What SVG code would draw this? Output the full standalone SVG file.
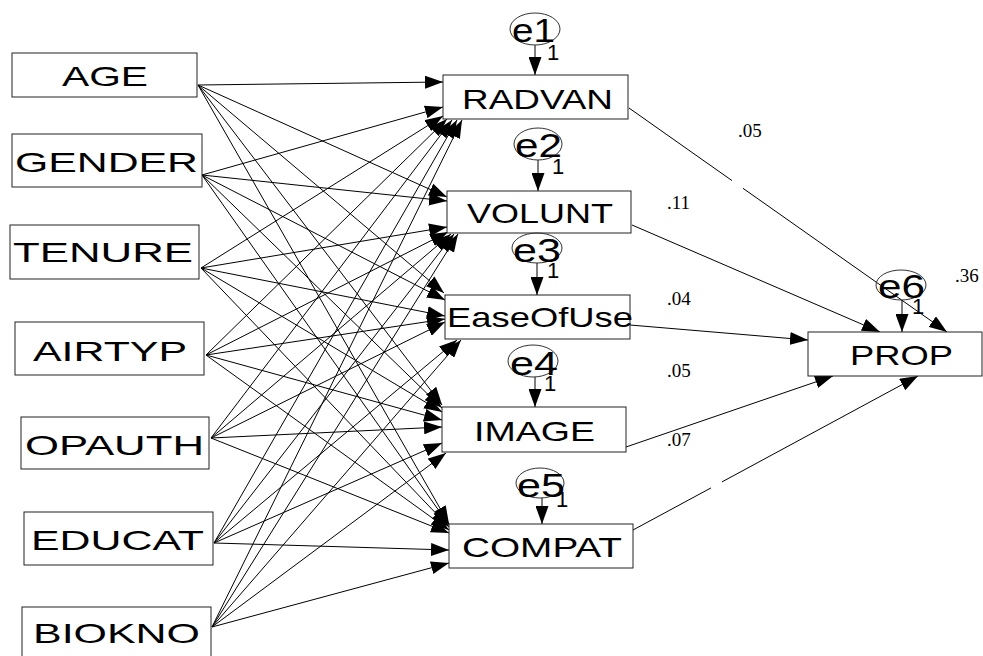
<svg xmlns="http://www.w3.org/2000/svg" width="983" height="656" viewBox="0 0 983 656">
<style>
.box{fill:#fff;stroke:#222;stroke-width:1}
.lbl{font-family:"Liberation Sans",Arial,sans-serif;font-size:28px;fill:#000}
.elbl{font-family:"Liberation Sans",Arial,sans-serif;font-size:34px;fill:#000}
.one{font-family:"Liberation Sans",Arial,sans-serif;font-size:22px;fill:#000}
.coef{font-family:"Liberation Serif","Times New Roman",serif;font-size:19px;fill:#000}
.err{fill:none;stroke:#333;stroke-width:1}
.c line{stroke:#000;stroke-width:1}
.c line.a{marker-end:url(#ah)}
</style>
<defs>
<marker id="ah" markerUnits="userSpaceOnUse" markerWidth="18" markerHeight="13" refX="18" refY="6.5" orient="auto">
<path d="M0,0 L18,6.5 L0,13 z" fill="#000"/>
</marker>
</defs>
<g id="connectors" class="c">
<line class="a" x1="198" y1="85" x2="443" y2="82"/>
<line class="a" x1="198" y1="85" x2="447" y2="197"/>
<line class="a" x1="198" y1="85" x2="444" y2="293"/>
<line class="a" x1="198" y1="85" x2="442" y2="405"/>
<line class="a" x1="198" y1="85" x2="449" y2="524"/>
<line class="a" x1="202" y1="175" x2="443" y2="107"/>
<line class="a" x1="202" y1="175" x2="447" y2="201"/>
<line class="a" x1="202" y1="175" x2="445" y2="300"/>
<line class="a" x1="202" y1="175" x2="442" y2="408"/>
<line class="a" x1="202" y1="175" x2="449" y2="525"/>
<line class="a" x1="201" y1="268" x2="443" y2="116"/>
<line class="a" x1="201" y1="268" x2="447" y2="227"/>
<line class="a" x1="201" y1="268" x2="445" y2="316"/>
<line class="a" x1="201" y1="268" x2="442" y2="412"/>
<line class="a" x1="201" y1="268" x2="449" y2="527"/>
<line class="a" x1="206" y1="355" x2="447" y2="119"/>
<line class="a" x1="206" y1="355" x2="448" y2="232"/>
<line class="a" x1="206" y1="355" x2="445" y2="319"/>
<line class="a" x1="206" y1="355" x2="442" y2="420"/>
<line class="a" x1="206" y1="355" x2="449" y2="530"/>
<line class="a" x1="211" y1="438" x2="452" y2="120"/>
<line class="a" x1="211" y1="438" x2="451" y2="234"/>
<line class="a" x1="211" y1="438" x2="445" y2="322"/>
<line class="a" x1="211" y1="438" x2="442" y2="427"/>
<line class="a" x1="211" y1="438" x2="449" y2="533"/>
<line class="a" x1="214" y1="543" x2="457" y2="120"/>
<line class="a" x1="214" y1="543" x2="454" y2="234"/>
<line class="a" x1="214" y1="543" x2="457" y2="340"/>
<line class="a" x1="214" y1="543" x2="442" y2="443"/>
<line class="a" x1="214" y1="543" x2="449" y2="550"/>
<line class="a" x1="212" y1="627" x2="462" y2="120"/>
<line class="a" x1="212" y1="627" x2="458" y2="234"/>
<line class="a" x1="212" y1="627" x2="461" y2="340"/>
<line class="a" x1="212" y1="627" x2="446" y2="453"/>
<line class="a" x1="212" y1="627" x2="449" y2="563"/>
<line x1="629" y1="108" x2="732" y2="180.6"/>
<line class="a" x1="743" y1="188.3" x2="947" y2="332"/>
<line class="a" x1="632" y1="225" x2="880" y2="332"/>
<line class="a" x1="630" y1="325" x2="808" y2="340"/>
<line class="a" x1="626" y1="447" x2="833" y2="376"/>
<line x1="633" y1="530" x2="711" y2="487.9"/>
<line class="a" x1="722" y1="481.9" x2="918" y2="376"/>
<line class="a" x1="535" y1="45" x2="535" y2="75"/>
<line class="a" x1="538" y1="160" x2="538" y2="191"/>
<line class="a" x1="537" y1="263" x2="537" y2="295"/>
<line class="a" x1="535" y1="377" x2="535" y2="407"/>
<line class="a" x1="542" y1="498" x2="542" y2="524"/>
<line class="a" x1="902" y1="300" x2="902" y2="332"/>
</g>
<g id="AGE"><rect class="box" x="12" y="53" width="185" height="44"/><text class="lbl" x="62" y="86" textLength="86" lengthAdjust="spacingAndGlyphs">AGE</text></g>
<g id="GENDER"><rect class="box" x="12" y="134" width="190" height="53"/><text class="lbl" x="15" y="172" textLength="183" lengthAdjust="spacingAndGlyphs">GENDER</text></g>
<g id="TENURE"><rect class="box" x="10" y="225" width="189" height="54"/><text class="lbl" x="13" y="262" textLength="180" lengthAdjust="spacingAndGlyphs">TENURE</text></g>
<g id="AIRTYP"><rect class="box" x="15" y="322" width="189" height="53"/><text class="lbl" x="33" y="361" textLength="154" lengthAdjust="spacingAndGlyphs">AIRTYP</text></g>
<g id="OPAUTH"><rect class="box" x="21" y="417" width="188" height="52"/><text class="lbl" x="25" y="455" textLength="179" lengthAdjust="spacingAndGlyphs">OPAUTH</text></g>
<g id="EDUCAT"><rect class="box" x="24" y="512" width="189" height="53"/><text class="lbl" x="31" y="550" textLength="173" lengthAdjust="spacingAndGlyphs">EDUCAT</text></g>
<g id="BIOKNO"><rect class="box" x="22" y="607" width="189" height="53"/><text class="lbl" x="33" y="643" textLength="167" lengthAdjust="spacingAndGlyphs">BIOKNO</text></g>
<g id="RADVAN"><rect class="box" x="443" y="75" width="185" height="44"/><text class="lbl" x="462" y="109" textLength="151" lengthAdjust="spacingAndGlyphs">RADVAN</text></g>
<g id="VOLUNT"><rect class="box" x="447" y="191" width="184" height="42"/><text class="lbl" x="467" y="223" textLength="146" lengthAdjust="spacingAndGlyphs">VOLUNT</text></g>
<g id="EaseOfUse"><rect class="box" x="445" y="295" width="185" height="44"/><text class="lbl" x="447" y="327" textLength="186" lengthAdjust="spacingAndGlyphs">EaseOfUse</text></g>
<g id="IMAGE"><rect class="box" x="442" y="407" width="184" height="45"/><text class="lbl" x="474" y="441" textLength="121" lengthAdjust="spacingAndGlyphs">IMAGE</text></g>
<g id="COMPAT"><rect class="box" x="449" y="524" width="184" height="44"/><text class="lbl" x="462" y="557" textLength="160" lengthAdjust="spacingAndGlyphs">COMPAT</text></g>
<g id="PROP"><rect class="box" x="808" y="332" width="174" height="44"/><text class="lbl" x="850" y="365" textLength="103" lengthAdjust="spacingAndGlyphs">PROP</text></g>
<g id="e1"><ellipse class="err" cx="535" cy="29" rx="25" ry="16"/><text class="elbl" x="512" y="42" textLength="43" lengthAdjust="spacingAndGlyphs">e1</text><text class="one" x="547" y="60">1</text></g>
<g id="e2"><ellipse class="err" cx="538" cy="144" rx="24" ry="16"/><text class="elbl" x="515" y="157" textLength="47" lengthAdjust="spacingAndGlyphs">e2</text><text class="one" x="552" y="174">1</text></g>
<g id="e3"><ellipse class="err" cx="537" cy="248" rx="25" ry="15"/><text class="elbl" x="513" y="262" textLength="48" lengthAdjust="spacingAndGlyphs">e3</text><text class="one" x="547" y="278">1</text></g>
<g id="e4"><ellipse class="err" cx="533" cy="361" rx="25" ry="16"/><text class="elbl" x="510" y="375" textLength="48" lengthAdjust="spacingAndGlyphs">e4</text><text class="one" x="544" y="391">1</text></g>
<g id="e5"><ellipse class="err" cx="540" cy="483" rx="24" ry="15"/><text class="elbl" x="517" y="497" textLength="48" lengthAdjust="spacingAndGlyphs">e5</text><text class="one" x="556" y="507">1</text></g>
<g id="e6"><ellipse class="err" cx="901" cy="285" rx="25" ry="15"/><text class="elbl" x="878" y="298" textLength="47" lengthAdjust="spacingAndGlyphs">e6</text><text class="one" x="912" y="314">1</text></g>
<g id="coefficients">
<text class="coef" x="738" y="137">.05</text>
<text class="coef" x="667" y="209">.11</text>
<text class="coef" x="667" y="305">.04</text>
<text class="coef" x="667" y="377">.05</text>
<text class="coef" x="667" y="446">.07</text>
<text class="coef" x="955" y="282">.36</text>
</g>
</svg>
